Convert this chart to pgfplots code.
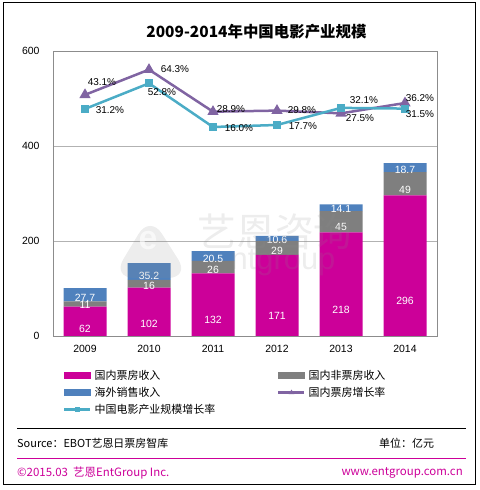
\documentclass[border=0pt]{standalone}
\usepackage{pgfplots}
\pgfplotsset{compat=1.18}
\usepackage{pgfplotstable}
\usepackage{fontspec}
\setmainfont{Liberation Sans}
\newfontfamily\cjk{Noto Sans CJK SC}

\definecolor{boxmag}{HTML}{CC0099}
\definecolor{nonbox}{HTML}{7F7F7F}
\definecolor{oversea}{HTML}{4F81BD}
\definecolor{growpur}{HTML}{8064A2}
\definecolor{growcyan}{HTML}{4BACC6}

% revenue in 100 million yuan
\pgfplotstableread{
x box nonbox oversea
0 62  11 27.7
1 102 16 35.2
2 132 26 20.5
3 171 29 10.6
4 218 45 14.1
5 296 49 18.7
}\revenue

% growth rates in percent, with label offsets
\pgfplotstableread{
x rate dx dy
0 43.1 17 13
1 64.3 26 1
2 28.9 18 3
3 29.8 25 1
4 27.5 19 -5
5 36.2 15 5
}\boxgrowth

\pgfplotstableread{
x rate dx dy
0 31.2 25 -1
1 52.8 13 -9
2 16.0 26 -1
3 17.7 26 -1
4 32.1 23 8
5 31.5 15 -6
}\industrygrowth

\begin{document}
\begin{tikzpicture}
\useasboundingbox (0bp,0bp) rectangle (480bp,490bp);

% title
\node[font=\cjk\bfseries\fontsize{15.5}{18}\selectfont] at (256.5bp,458bp) {2009-2014年中国电影产业规模};

\begin{axis}[
  at={(53bp,154bp)}, anchor=south west,
  scale only axis, width=384bp, height=285bp,
  ybar stacked, bar width=43bp,
  xmin=-0.5, xmax=5.5, ymin=0, ymax=600,
  xtick={0,...,5}, xticklabels={2009,2010,2011,2012,2013,2014},
  ytick={0,200,400,600}, yticklabels={0,200,400,600},
  major tick length=0pt,
  ymajorgrids, grid style={draw=black!30, line width=0.7bp},
  axis line style={draw=black!45, line width=0.8bp},
  tick label style={font=\fontsize{10.5}{12}\selectfont, black},
  xticklabel style={yshift=-6bp},
  yticklabel style={xshift=-10bp},
  /pgf/number format/assume math mode=true,
  point meta=explicit,
  nodes near coords={\pgfmathprintnumber{\pgfplotspointmeta}},
  visualization depends on={rawy \as \rawy},
  every node near coord/.append style={anchor=center, yshift={-0.1192*\rawy}, white, font=\fontsize{10.5}{12}\selectfont},
]
\addplot[fill=boxmag, draw=none] table[x=x, y=box, meta=box]{\revenue};
\addplot[fill=nonbox, draw=none] table[x=x, y=nonbox, meta=nonbox]{\revenue};
\addplot[fill=oversea, draw=none] table[x=x, y=oversea, meta=oversea]{\revenue};
\end{axis}

\begin{axis}[
  at={(53bp,154bp)}, anchor=south west,
  scale only axis, width=384bp, height=285bp,
  xmin=-0.5, xmax=5.5, ymin=-160, ymax=80,
  hide axis, clip=false,
  /pgf/number format/assume math mode=true,
  legend columns=2, legend cell align=left,
  legend style={at={(axis description cs:0.026,-0.108)}, anchor=north west,
    draw=none, fill=none, inner sep=0pt, row sep=0pt,
    font=\cjk\fontsize{11}{13}\selectfont,
    nodes={inner sep=0pt, minimum height=17bp},
    /tikz/every odd column/.append style={column sep=3bp},
    /tikz/every even column/.append style={column sep=62bp}},
]
\addlegendimage{legend image code/.code={\fill[boxmag] (0bp,-3bp) rectangle (26bp,3bp);}}
\addlegendentry{国内票房收入}
\addlegendimage{legend image code/.code={\fill[nonbox] (0bp,-3bp) rectangle (26bp,3bp);}}
\addlegendentry{国内非票房收入}
\addlegendimage{legend image code/.code={\fill[oversea] (0bp,-3bp) rectangle (26bp,3bp);}}
\addlegendentry{海外销售收入}
\addlegendimage{legend image code/.code={\draw[growpur, line width=2.5bp] (0bp,0bp) -- (26bp,0bp); \fill[growpur] (13bp,2.5bp) -- (15.5bp,-1.5bp) -- (10.5bp,-1.5bp) -- cycle;}}
\addlegendentry{国内票房增长率}
\addlegendimage{legend image code/.code={\draw[growcyan, line width=2.5bp] (0bp,0bp) -- (26bp,0bp); \fill[growcyan] (11bp,-2bp) rectangle (15bp,2bp);}}
\addlegendentry{中国电影产业规模增长率}

\addplot[forget plot, growpur, line width=2.5bp, mark=triangle*, mark size=4bp,
  point meta=y,
  nodes near coords={\pgfmathprintnumber[fixed,fixed zerofill,precision=1]{\pgfplotspointmeta}\%},
  visualization depends on={\thisrow{dx} \as \dx},
  visualization depends on={\thisrow{dy} \as \dy},
  every node near coord/.append style={anchor=center, xshift=\dx, yshift=\dy, black, font=\fontsize{10}{12}\selectfont}]
  table[x=x, y=rate]{\boxgrowth};
\addplot[forget plot, growcyan, line width=2.5bp, mark=square*, mark size=2.8bp,
  point meta=y,
  nodes near coords={\pgfmathprintnumber[fixed,fixed zerofill,precision=1]{\pgfplotspointmeta}\%},
  visualization depends on={\thisrow{dx} \as \dx},
  visualization depends on={\thisrow{dy} \as \dy},
  every node near coord/.append style={anchor=center, xshift=\dx, yshift=\dy, black, font=\fontsize{10}{12}\selectfont}]
  table[x=x, y=rate]{\industrygrowth};
\end{axis}

% translucent company watermark laid over the chart
\begin{scope}[opacity=0.16]
  \fill[black!45, rounded corners=22bp] (112bp,212bp) -- (150bp,275bp) -- (190bp,212bp) -- cycle;
  \node[black!45, font=\cjk\fontsize{39}{41}\selectfont] at (275bp,258bp) {艺恩咨询};
  \node[black!45, font=\fontsize{31}{33}\selectfont] at (283bp,227bp) {ntgroup};
\end{scope}
\node[white, opacity=0.6, font=\bfseries\fontsize{34}{36}\selectfont] at (148bp,249bp) {e};

% source and footer
\draw[line width=0.8bp] (17bp,62bp) -- (466bp,62bp);
\node[anchor=west, inner sep=0pt, font=\cjk\fontsize{11}{13}\selectfont] at (17bp,47bp) {Source：EBOT艺恩日票房智库};
\node[anchor=west, inner sep=0pt, font=\cjk\fontsize{11}{13}\selectfont] at (379bp,47bp) {单位：亿元};
\draw[boxmag, line width=0.8bp] (17bp,32bp) -- (466bp,32bp);
\node[anchor=west, inner sep=0pt, boxmag, font=\cjk\fontsize{11.5}{13}\selectfont] at (17bp,17bp) {©2015.03\ \ 艺恩EntGroup Inc.};
\node[anchor=east, inner sep=0pt, boxmag, font=\cjk\fontsize{11.5}{13}\selectfont] at (463bp,17bp) {www.entgroup.com.cn};

% outer frame
\draw[line width=1bp] (3.5bp,5bp) rectangle (475.5bp,487bp);
\end{tikzpicture}
\end{document}
